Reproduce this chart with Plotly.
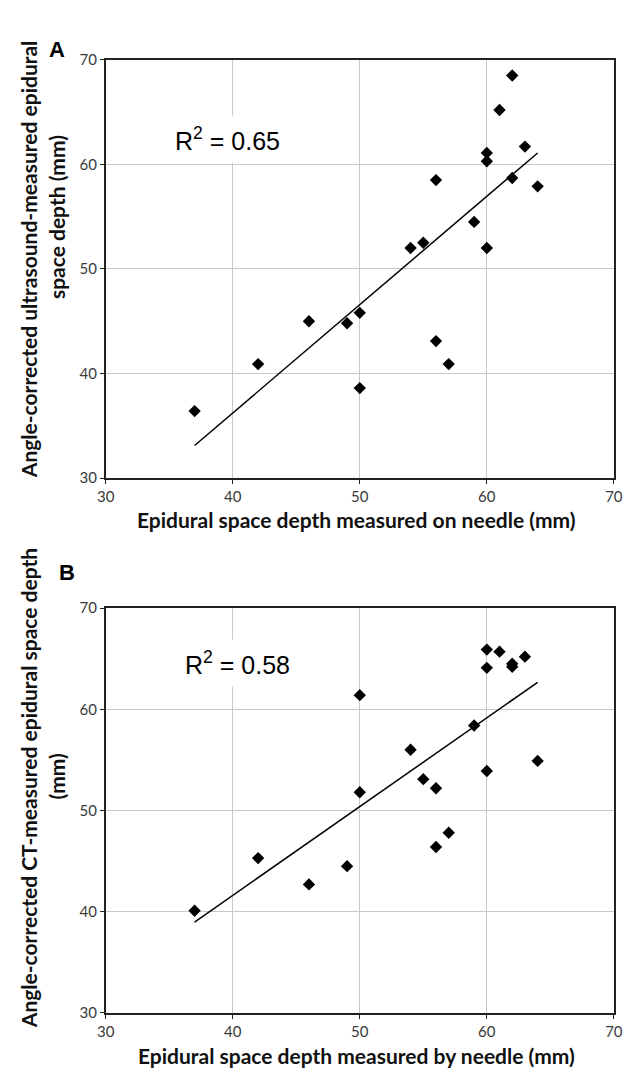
import numpy as np
import plotly.graph_objects as go

W, H = 632, 1075

# ---- data ----
needle_depth = [62, 61, 60, 60, 63, 56, 62, 64, 59, 54, 55, 60, 50, 49, 46, 42, 56, 57, 50, 37]
us_depth = [68.5, 65.2, 61.1, 60.3, 61.7, 58.5, 58.7, 57.9, 54.5, 52.0, 52.5, 52.0,
            45.8, 44.8, 45.0, 40.9, 43.1, 40.9, 38.6, 36.4]

needle_depth_b = [60, 61, 60, 62, 62, 63, 50, 59, 54, 55, 56, 60, 64, 50, 57, 56, 42, 49, 46, 37]
ct_depth = [65.9, 65.7, 64.1, 64.5, 64.2, 65.2, 61.4, 58.4, 56.0, 53.1, 52.2, 53.9, 54.9,
            51.8, 47.8, 46.4, 45.3, 44.5, 42.7, 40.1]

tick_vals = [30, 40, 50, 60, 70]
r2_text_a = "R<sup>2</sup> = 0.65"
r2_text_b = "R<sup>2</sup> = 0.58"
xtitle_a = "Epidural space depth measured on needle (mm)"
xtitle_b = "Epidural space depth measured by needle (mm)"
ytitle_a = ["Angle-corrected ultrasound-measured epidural", "space depth (mm)"]
ytitle_b = ["Angle-corrected CT-measured epidural space depth", "(mm)"]


def fit_line(x, y):
    x = np.asarray(x, float)
    y = np.asarray(y, float)
    m, c = np.polyfit(x, y, 1)
    xs = np.array([x.min(), x.max()])
    return xs, m * xs + c


def px(x):
    return x / W


def py(y):
    return 1 - y / H


fig = go.Figure()

for (xv, yv, xa, ya) in [(needle_depth, us_depth, "x", "y"),
                         (needle_depth_b, ct_depth, "x2", "y2")]:
    lx, ly = fit_line(xv, yv)
    fig.add_trace(go.Scatter(x=lx, y=ly, mode="lines", xaxis=xa, yaxis=ya,
                             line=dict(color="black", width=1.5), showlegend=False,
                             hoverinfo="skip"))
    fig.add_trace(go.Scatter(x=xv, y=yv, mode="markers", xaxis=xa, yaxis=ya,
                             marker=dict(symbol="diamond", size=9.5, color="black"),
                             showlegend=False))

tick_font = dict(family="Lato, sans-serif", size=15, color="#3a3a3a")
ax_common = dict(range=[30, 70], tickvals=tick_vals, showgrid=True, gridcolor="#c8c8c8",
                 gridwidth=1, showline=True, linecolor="#222222", linewidth=1.6, mirror=True,
                 ticks="outside", ticklen=4, tickcolor="#222222", tickfont=tick_font,
                 zeroline=False, fixedrange=True)

xdom = [px(99.5), px(622.6)]
fig.update_layout(
    width=W, height=H,
    margin=dict(l=0, r=0, t=0, b=0),
    paper_bgcolor="white", plot_bgcolor="white",
    xaxis=dict(domain=xdom, anchor="y", **ax_common),
    yaxis=dict(domain=[py(476), py(50.7)], anchor="x", **ax_common),
    xaxis2=dict(domain=xdom, anchor="y2", **ax_common),
    yaxis2=dict(domain=[py(1020), py(608.3)], anchor="x2", **ax_common),
)

ann = []
title_font = dict(family="Lato, sans-serif", size=21, color="#111111")
# x titles
ann.append(dict(text=f"<b>{xtitle_a}</b>", x=px(358), y=py(518), xref="paper", yref="paper",
                showarrow=False, font=title_font, xanchor="center", yanchor="middle"))
ann.append(dict(text=f"<b>{xtitle_b}</b>", x=px(358), y=py(1063), xref="paper", yref="paper",
                showarrow=False, font=title_font, xanchor="center", yanchor="middle"))
# y titles
for txt, cx, cy in [(ytitle_a[0], 20, 254), (ytitle_a[1], 49, 211),
                    (ytitle_b[0], 20, 791), (ytitle_b[1], 49, 780)]:
    ann.append(dict(text=f"<b>{txt}</b>", x=px(cx), y=py(cy), xref="paper", yref="paper",
                    showarrow=False, font=title_font, textangle=-90,
                    xanchor="center", yanchor="middle"))
# panel letters
letter_font = dict(family="Liberation Sans, Arial, sans-serif", size=22, color="black")
ann.append(dict(text="<b>A</b>", x=px(39), y=py(25), xref="paper", yref="paper",
                showarrow=False, font=letter_font))
ann.append(dict(text="<b>B</b>", x=px(49), y=py(572), xref="paper", yref="paper",
                showarrow=False, font=letter_font))
# R^2 labels
r2_font = dict(family="Liberation Sans, Arial, sans-serif", size=25, color="black")
ann.append(dict(text=r2_text_a, x=px(225), y=py(107), xref="paper", yref="paper",
                showarrow=False, font=r2_font, bgcolor="white", borderpad=7))
ann.append(dict(text=r2_text_b, x=px(235), y=py(664), xref="paper", yref="paper",
                showarrow=False, font=r2_font, bgcolor="white", borderpad=7))

fig.update_layout(annotations=ann)
fig.write_html("out.html")
